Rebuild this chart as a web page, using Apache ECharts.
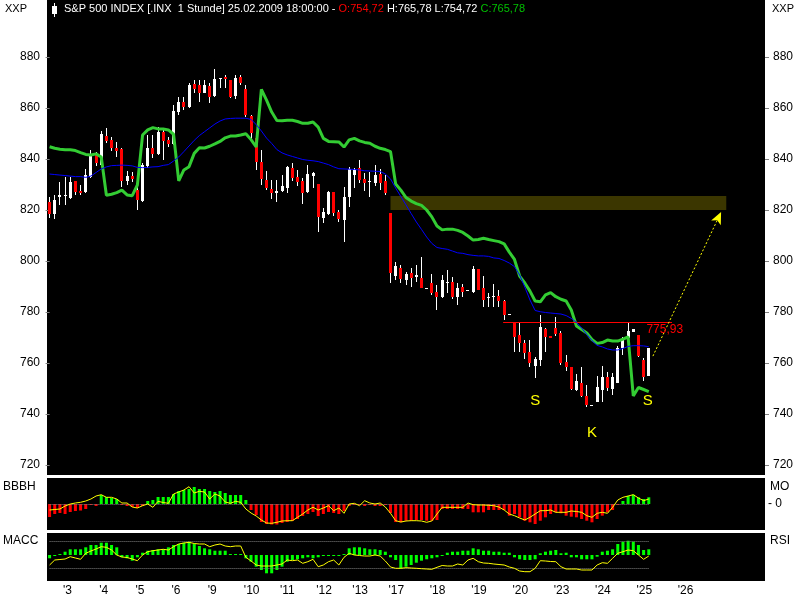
<!DOCTYPE html>
<html>
<head>
<meta charset="utf-8">
<script src="https://cdn.jsdelivr.net/npm/echarts@6/dist/echarts.min.js"></script>
<style>html,body{margin:0;padding:0;background:#fff;}#c{width:800px;height:600px;}</style>
</head>
<body>
<div id="c"></div>
<script>
// ---- DATA ----
const dayLabels = ["'3","'4","'5","'6","'9","'10","'11","'12","'13","'17","'18","'19","'20","'23","'24","'25","'26"];
const dayStart  = [3,10,17,24,31,38,45,52,59,66,74,82,90,98,106,114,122];
const slotCount = 139;

const open = [823.3,818.3,825.2,825.6,824.8,831.4,827.5,826.9,833.1,841.6,
837.6,849.0,847.5,844.2,843.8,831.4,833.3,827.8,823.5,837.4,
844.2,842.0,850.5,847.3,845.8,858.5,862.2,860.3,869.3,869.0,
866.0,868.6,864.8,871.3,872.0,871.0,864.8,872.3,867.5,856.9,
848.4,838.9,831.8,828.2,826.5,827.6,828.7,836.6,833.1,831.4,
826.9,833.5,830.2,817.0,818.3,826.9,819.1,816.1,825.2,833.7,
836.4,832.0,830.8,830.7,834.1,831.2,818.9,794.1,797.4,792.5,
795.4,793.8,793.5,789.4,791.3,788.0,786.0,791.3,791.9,786.0,
789.7,788.4,788.0,796.9,789.5,785.4,785.8,786.3,784.3,779.0,
775.8,771.0,768.0,764.4,759.0,761.2,773.2,770.6,773.6,771.9,
760.5,758.6,749.4,752.0,747.2,743.4,744.8,749.4,754.4,749.7,
752.3,765.8,769.7,772.3,771.0,761.2,754.72];
const close = [818.3,823.9,825.9,825.9,831.1,826.9,826.8,833.7,841.6,838.3,
849.8,847.1,844.2,843.3,831.4,833.3,832.2,823.9,837.6,844.2,
841.8,850.7,847.1,845.8,858.8,862.2,860.3,869.0,867.5,865.8,
869.0,864.4,871.4,871.6,871.3,864.4,871.9,869.9,857.3,850.3,
838.9,832.0,828.7,826.8,827.6,829.4,837.0,832.7,831.1,826.8,
834.1,834.4,817.4,819.3,827.2,818.7,816.5,825.2,836.0,835.7,
831.8,830.7,831.2,833.7,830.7,826.7,795.2,798.0,792.8,794.8,
793.5,794.5,789.5,789.6,787.3,786.0,792.5,791.6,785.8,789.3,
788.0,788.6,796.9,788.6,784.7,786.0,786.2,784.4,778.8,779.2,
770.3,767.7,764.0,759.9,761.5,774.2,770.3,769.9,771.3,759.9,
758.3,749.8,752.9,747.1,743.5,743.6,750.7,754.4,750.1,754.4,
766.0,769.0,772.5,773.2,762.7,754.6,765.78];
const high = [825.2,825.9,831.1,833.1,833.1,831.4,829.8,836.1,843.5,842.9,
851.0,852.0,848.7,846.5,844.2,835.3,835.0,829.8,838.3,849.4,
849.4,852.7,851.4,848.7,861.2,864.4,864.4,869.7,871.0,871.0,
871.0,869.7,875.2,871.8,872.9,871.0,872.9,872.9,869.0,857.3,
849.0,843.5,835.3,831.8,831.8,833.7,837.2,838.3,835.7,832.4,
837.6,835.0,830.2,820.7,827.6,827.2,820.0,829.1,837.0,836.4,
839.6,834.4,834.9,837.6,836.1,833.7,818.9,799.7,798.4,795.8,
797.4,798.4,801.7,789.6,794.9,790.6,794.5,796.5,793.8,791.3,
791.0,788.6,798.0,797.0,794.1,787.6,791.0,788.6,784.7,779.2,
775.9,775.6,769.0,769.0,762.5,778.8,773.6,770.6,777.9,772.7,
763.1,758.6,755.7,758.6,751.4,743.6,754.9,758.8,756.6,756.0,
766.7,770.3,775.6,773.2,771.0,761.8,765.78];
const low = [816.7,816.5,822.0,822.0,824.3,825.9,825.9,826.5,832.7,837.4,
837.4,846.2,843.1,840.9,829.1,829.8,831.1,820.0,823.3,836.4,
840.3,841.6,839.6,844.8,845.5,857.3,859.2,859.9,865.8,862.5,
865.8,861.8,864.4,867.7,867.7,863.8,863.4,869.0,856.6,846.8,
835.7,829.8,827.8,824.2,823.3,827.2,826.8,831.5,829.4,822.4,
826.5,828.5,811.5,814.8,818.0,817.6,815.4,807.6,821.3,828.5,
830.5,827.6,825.2,829.6,827.8,825.9,791.3,792.5,791.5,790.6,
789.9,791.9,789.3,789.4,786.7,780.8,785.4,787.6,785.0,782.7,
786.0,788.4,787.6,788.5,782.1,782.1,782.1,782.1,776.9,779.0,
764.4,764.4,761.5,758.6,754.2,758.9,764.4,769.9,770.6,759.2,
757.0,749.4,749.1,746.8,742.6,743.4,744.8,744.8,749.1,747.5,
752.0,763.1,768.4,772.3,762.5,753.1,754.72];
// green trailing band line
const stopLine = [844.8,844.2,843.8,843.6,843.6,843.3,842.5,841.8,841.6,842.0,
840.8,825.8,826.2,826.8,827.8,825.9,825.6,829.8,849.4,851.4,
852.3,851.8,851.8,851.4,849.7,831.4,835.7,837.0,842.2,844.4,
844.3,845.0,845.9,846.9,848.3,849.0,849.0,849.4,849.9,847.6,
844.7,867.3,863.1,858.4,855.1,855.0,855.2,855.2,854.7,854.0,
854.0,854.5,852.5,848.1,846.9,846.8,846.7,844.7,847.5,848.1,
847.1,846.5,846.2,845.0,844.2,843.7,842.9,830.2,827.8,824.9,
823.5,822.5,821.8,820.0,817.3,813.7,812.2,812.5,812.5,812.0,
811.2,809.8,808.2,808.4,808.9,808.4,808.0,807.6,806.7,803.5,
800.6,794.1,791.4,788.2,784.3,784.0,786.7,787.6,786.0,785.0,
784.3,780.8,774.5,773.1,771.8,769.2,767.7,768.0,769.0,768.6,
768.6,769.4,770.2,747.1,750.4,749.6,748.8];
// blue moving average
const movAvg = [834.1,833.9,833.7,833.5,833.3,833.1,833.1,832.8,833.3,834.7,
836.1,836.9,837.4,837.5,837.6,837.5,837.3,836.7,836.6,836.7,
836.9,837.0,837.5,837.8,839.2,840.8,842.9,845.1,847.3,849.2,
850.7,852.2,853.7,854.9,855.7,855.9,856.0,856.0,856.0,855.5,
853.5,851.0,848.2,846.1,843.7,842.4,841.6,841.0,840.4,839.8,
839.5,839.3,839.0,838.4,837.8,836.9,836.2,836.1,836.0,835.9,
835.7,835.4,835.3,835.2,835.1,834.1,832.2,828.6,825.3,822.0,
818.6,815.3,812.4,809.4,806.9,805.3,804.9,804.6,803.9,803.2,
803.0,802.5,802.2,802.0,802.0,801.8,801.2,801.0,800.2,799.2,
797.8,794.5,789.8,784.7,780.6,780.1,779.8,779.6,779.4,779.2,
778.6,777.5,775.9,773.7,771.2,768.8,766.9,766.3,765.5,765.1,
765.1,765.7,766.5,766.8,766.8,766.7,766.4];
// BBBH / MO panel
const moBars = [-13,-10,-9,-10,-8,-7,-6.5,-5,-1,-2,
9,7,6,5,-1,-2,-3,-4,-2,3,
4,7,7,7,10,13,14,15,17,15,
15,13,12,13,11,9,9,9,4,-6,
-11,-18,-20,-20.5,-20.5,-19,-18,-17,-15,-12,
-10,-8,-12,-10,-8,-9,-10,-7,-2,-1,
-1,-2,-1,-2,-2,-1,-9,-18,-18.3,-16.7,
-16.7,-16,-16,-16.7,-16.7,-16,-5,-5,-5,-5,
-5,-5,-8.3,-8.3,-8.3,-6,-6,-6,-6,-11.7,
-10,-13.3,-16.7,-18.3,-20,-16.7,-13.3,-10,-8.3,-9.3,
-11.7,-12.7,-13.3,-15,-16.7,-18.3,-15,-11.7,-8.3,-6,
-1,3,8,9.3,6.7,5,6.7];
const moLine = [-6,-5.5,-5,-2,0,1,1.7,3,5,8,
9.3,6.7,6.7,5,1,1,-3,-4,-1.7,0,
-3.3,2.7,1.5,0.7,10,12,14,17.3,11,12.7,
12,5,10,8,2,0.7,2.7,1.7,-5,-9,
-12,-16,-19,-19.3,-18.3,-17,-16.7,-16.7,-13.3,-10,
-6,-3.3,-6,-4,-1.7,-6.7,-4,-9.3,0,0.7,
-1.7,3.3,1,0,1,-3,-9.3,-16.7,-18,-17,
-16.7,-16.7,-17,-18.3,-17,-10,-3.3,-3.3,-3.3,-3.3,
-3.3,1,-0.7,-1,-1,-1.3,-1.7,-3,-6,-10,
-11.7,-14,-16,-13.3,-10,-6.7,-6.7,-6,-8.3,-8.3,
-8.3,-7,-7.5,-8.3,-11.7,-13.3,-9.3,-8.3,-9.3,-3.3,
4,6.7,8,9.3,6,3.3,5];
// MACC / RSI panel
const maccBars = [-3.3,-1,1,3.3,5.7,5.7,5.7,7.7,10,10,
12.3,12.3,10,7.7,-2.3,-3.3,-5.7,-2.3,2.3,4.3,
5,5.7,5.7,7.7,10,11,12.3,13.3,11,9,
6.7,5.7,4.3,4.3,4.3,1,1,1,-3.3,-6.7,
-11.7,-15,-18.3,-18.3,-15,-11.7,-6.7,-5,-4.3,-3.3,
-2.3,-3.3,-2.3,-1,-1,-1,-1,1,6.7,7.7,
7.7,6.7,5.7,5.7,5,3.3,-2.3,-5,-13.3,-11.7,
-10,-7.7,-5.7,-4.3,-3.3,-2.3,-1,2.3,3.3,3.3,
4.3,4.3,6.7,5.7,4.3,4.3,3.3,3.3,2.3,2.3,
-2.3,-4.3,-5,-5,-4.3,1.7,3.3,4.3,5,1.7,
2.3,-2.3,-2.3,-4.3,-4.3,-4.3,-1.7,3.3,4.3,5.7,
11,13.3,14.3,13.3,10,5,5.7];
const rsiLine = [-10,-5,-4.5,-4,-1.7,-3,-4.3,1.7,4,6,
8.3,7.7,5,0,-2,-2.5,-4,-5.7,0,3.3,
4.3,5,5.7,5,8.3,11,12,12.7,11.5,11,
11,8.3,10,11,9,8.3,9,9,-2.3,-6,
-10,-11,-11,-11,-10,-9,-5,-5.7,-5,-8.3,
-6.7,-4.3,-11.7,-10,-6.7,-5,-10,-2.3,1.7,0,
-0.5,-1,-1,0,-1,-6,-12,-13.3,-13.3,-12.7,
-13,-13.3,-13.7,-14,-14.3,-12.3,-10.5,-11,-11,-9,
-10,-5,-3.3,-6.7,-8,-8.3,-9,-9.5,-10,-12,
-13.3,-16,-16.7,-16.7,-13.3,-5.7,-6,-6.5,-6.7,-11.7,
-14,-14,-14,-15,-15,-15,-10,-7.7,-8.3,-3.3,
1.7,3.3,5,4.3,0,-4.3,-1];
const rsiLevels = [14, -13.7];
const resistance = 775.93;
const targetZone = [820.0, 825.5];
const arrowFrom = [116.8, 762.7];
const arrowTo = [130.0, 819.2];
const patternMarks = [{t:'S', x:94.0, y:745.1},{t:'K', x:105.0, y:732.5},{t:'S', x:115.8, y:745.1}];
const header = {title:'S&P 500 INDEX [.INX  1 Stunde] 25.02.2009 18:00:00 - ', o:'O:754,72', hl:' H:765,78 L:754,72 ', c:'C:765,78'};

// ---- CHART ----
const FONT = "'Liberation Sans', Arial, sans-serif";
const cats = new Array(slotCount).fill('');
dayStart.forEach((s,k)=>{cats[s]=dayLabels[k];});
const lastIdx = open.length - 1;
const candleData = open.map((o,i)=>[i,o,close[i],low[i],high[i]]);

function renderCandle(params, api){
  const i = api.value(0), o = api.value(1), c = api.value(2), l = api.value(3), h = api.value(4);
  const pO = api.coord([i,o]), pC = api.coord([i,c]), pH = api.coord([i,h]), pL = api.coord([i,l]);
  const cx = Math.floor(pO[0]);
  let top = Math.round(Math.min(pO[1], pC[1]));
  let bot = Math.round(Math.max(pO[1], pC[1]));
  if (bot - top < 1) bot = top + 1;
  const yh = Math.round(pH[1]), yl = Math.round(pL[1]);
  const col = c >= o ? '#ffffff' : '#ff0000';
  return {type:'group', children:[
    {type:'rect', shape:{x:cx, y:yh, width:1, height:Math.max(1, yl-yh)}, style:{fill:'#ffffff'}},
    {type:'rect', shape:{x:cx-1, y:top, width:3, height:bot-top}, style:{fill:col}}
  ]};
}

const chart = echarts.init(document.getElementById('c'), null, {renderer:'canvas'});
const txt = (x,y,text,size)=>({type:'text', x:x, y:y, style:{text:text, fill:'#000', font:(size||12)+'px '+FONT, textVerticalAlign:'middle'}});

const option = {
  animation:false,
  backgroundColor:'#ffffff',
  graphic:[
    {type:'rect', z:-10, shape:{x:47,y:0,width:718,height:475}, style:{fill:'#000'}},
    {type:'rect', z:-10, shape:{x:47,y:478,width:718,height:52}, style:{fill:'#000'}},
    {type:'rect', z:-10, shape:{x:47,y:533,width:718,height:48}, style:{fill:'#000'}},
    {type:'rect', z:10, shape:{x:54,y:3,width:1,height:14}, style:{fill:'#fff'}},
    {type:'rect', z:10, shape:{x:52,y:6,width:5,height:8}, style:{fill:'#fff'}},
    {type:'text', z:10, x:64, y:9, style:{
      text:'{w|'+header.title+'}{r|'+header.o+'}{w|'+header.hl+'}{g|'+header.c+'}',
      font:'11px '+FONT, textVerticalAlign:'middle',
      rich:{w:{fill:'#ffffff', font:'11px '+FONT}, r:{fill:'#ff0000', font:'11px '+FONT}, g:{fill:'#00c000', font:'11px '+FONT}}}},
    txt(5,9,'XXP',11), txt(772,9,'XXP',11),
    txt(3,487,'BBBH'), txt(3,541,'MACC'),
    txt(770,487,'MO'), txt(770,541,'RSI')
  ],
  grid:[
    {left:47, top:57, width:718, height:408},
    {left:47, top:478, width:718, height:52},
    {left:47, top:533, width:718, height:48}
  ],
  xAxis:[
    {type:'category', gridIndex:0, data:cats, boundaryGap:true, show:false},
    {type:'category', gridIndex:1, data:cats, boundaryGap:true, show:false},
    {type:'category', gridIndex:2, data:cats, boundaryGap:true,
      axisLine:{show:false}, axisTick:{show:false}, splitLine:{show:false},
      axisLabel:{interval:0, align:'left', color:'#000', fontSize:12, fontFamily:FONT, margin:4, padding:[0,0,0,-2]}},
    {type:'value', gridIndex:0, min:-0.5, max:slotCount-0.5, show:false}
  ],
  yAxis:[
    {type:'value', gridIndex:0, position:'left', min:720, max:880, interval:20,
      splitLine:{show:false}, axisLine:{show:false},
      axisTick:{show:true, length:4, lineStyle:{color:'#808080'}},
      axisLabel:{color:'#000', fontSize:12, fontFamily:FONT, margin:7}},
    {type:'value', gridIndex:0, position:'right', min:720, max:880, interval:20,
      splitLine:{show:false}, axisLine:{show:false},
      axisTick:{show:true, length:4, lineStyle:{color:'#808080'}},
      axisLabel:{color:'#000', fontSize:12, fontFamily:FONT, margin:8}},
    {type:'value', gridIndex:1, position:'right', min:-26, max:26, interval:26,
      splitLine:{show:false}, axisLine:{show:false}, axisTick:{show:false},
      axisLabel:{color:'#000', fontSize:12, fontFamily:FONT, margin:3, formatter:v=>v===0?'- 0':''}},
    {type:'value', gridIndex:2, min:-26, max:22, show:false}
  ],
  series:[
    {type:'line', xAxisIndex:3, yAxisIndex:0, data:[], z:1, silent:true,
      markArea:{silent:true, itemStyle:{color:'#3b3600'},
        data:[[{coord:[66,targetZone[1]]},{coord:[131.0,targetZone[0]]}]]}},
    {type:'custom', xAxisIndex:0, yAxisIndex:0, data:candleData, renderItem:renderCandle,
      encode:{x:0, y:[1,2,3,4]}, z:3, silent:true},
    {type:'line', xAxisIndex:0, yAxisIndex:0, data:stopLine, showSymbol:false, symbol:'none',
      lineStyle:{color:'#33cc33', width:3}, z:4, silent:true},
    {type:'line', xAxisIndex:0, yAxisIndex:0, data:movAvg, showSymbol:false, symbol:'none',
      lineStyle:{color:'#0000ff', width:1}, z:5, silent:true},
    {type:'line', xAxisIndex:3, yAxisIndex:0, data:[], z:6, silent:true,
      markLine:{silent:true, symbol:'none', label:{show:false},
        data:[
          [{coord:[87.8,resistance], lineStyle:{color:'#ff0000', width:1, type:'solid'}},{coord:[120.5,resistance]}],
          [{coord:arrowFrom, symbol:'none', lineStyle:{color:'#ffff00', width:1, type:[2,2]}},{coord:arrowTo, symbol:'arrow', symbolSize:[8,12]}]
        ]},
      markPoint:{silent:true, symbol:'circle', symbolSize:0,
        data: patternMarks.map(m=>({coord:[m.x,m.y], value:m.t,
          label:{show:true, formatter:m.t, color:'#ffff00', fontSize:15, fontFamily:FONT, position:'inside'}}))
          .concat([{coord:[119.1,resistance], value:0,
          label:{show:true, formatter:'775,93', color:'#ff0000', fontSize:12, fontFamily:FONT, position:'inside', offset:[0,7]}}])}},
    {type:'bar', xAxisIndex:1, yAxisIndex:2, data:moBars, barWidth:3, silent:true,
      itemStyle:{color:p=>p.value>=0?'#00ff00':'#ff0000'},
      markLine:{silent:true, symbol:'none', label:{show:false},
        lineStyle:{color:'#808080', type:'dotted', width:1},
        data:[[{coord:[0,0]},{coord:[lastIdx,0]}]]}},
    {type:'line', xAxisIndex:1, yAxisIndex:2, data:moLine, showSymbol:false, symbol:'none',
      lineStyle:{color:'#ffff00', width:1}, z:5, silent:true},
    {type:'bar', xAxisIndex:2, yAxisIndex:3, data:maccBars, barWidth:3, silent:true,
      itemStyle:{color:'#00ff00'},
      markLine:{silent:true, symbol:'none', label:{show:false},
        lineStyle:{color:'#808080', type:'dotted', width:1},
        data: rsiLevels.map(v=>[{coord:[0,v]},{coord:[lastIdx,v]}])}},
    {type:'line', xAxisIndex:2, yAxisIndex:3, data:rsiLine, showSymbol:false, symbol:'none',
      lineStyle:{color:'#ffff00', width:1}, z:5, silent:true}
  ]
};
chart.setOption(option);
</script>
</body>
</html>
